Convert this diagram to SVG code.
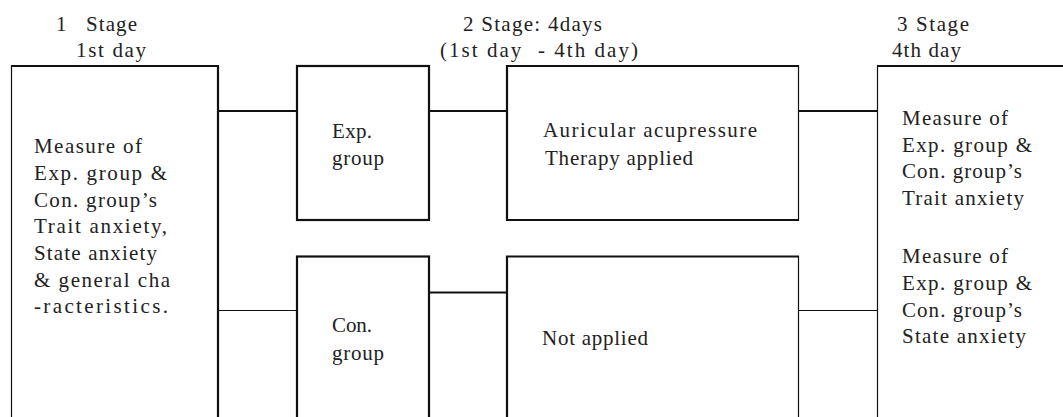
<svg xmlns="http://www.w3.org/2000/svg" width="1063" height="417" viewBox="0 0 1063 417">
<style>
text{font-family:"Liberation Serif","DejaVu Serif",serif;font-size:21px;fill:#222;}
.thick{stroke:#111;stroke-width:2.2;fill:none;}
.thin{stroke:#111;stroke-width:1.2;fill:none;}
</style>
<rect width="1063" height="417" fill="#fff"/>
<g id="headers">
<text x="56" y="31">1<tspan x="86" textLength="51" lengthAdjust="spacing">Stage</tspan></text>
<text x="76" y="57" textLength="70" lengthAdjust="spacing">1st day</text>
<text x="463" y="31" textLength="139" lengthAdjust="spacing">2 Stage: 4days</text>
<text x="440" y="57" textLength="198" lengthAdjust="spacing" xml:space="preserve">(1st day  - 4th day)</text>
<text x="897" y="31" textLength="72" lengthAdjust="spacing">3 Stage</text>
<text x="892" y="57" textLength="69" lengthAdjust="spacing">4th day</text>
</g>
<g id="connectors">
<line class="thick" x1="218" y1="111" x2="297" y2="111"/>
<line class="thick" x1="429" y1="111" x2="507" y2="111"/>
<line class="thick" x1="798" y1="111" x2="877" y2="111"/>
<line class="thin" x1="218" y1="310.5" x2="297" y2="310.5"/>
<line class="thick" x1="429" y1="292.5" x2="507" y2="292.5"/>
<line class="thin" x1="798" y1="310.5" x2="877" y2="310.5"/>
</g>
<g id="stage1">
<path class="thin" d="M11.5 430 V66"/>
<path class="thick" d="M11 66 H218 V430"/>
<text x="34" y="153" textLength="108" lengthAdjust="spacing">Measure of</text>
<text x="34" y="180" textLength="133" lengthAdjust="spacing">Exp. group &amp;</text>
<text x="34" y="207" textLength="123" lengthAdjust="spacing">Con. group’s</text>
<text x="34" y="233" textLength="133" lengthAdjust="spacing">Trait anxiety,</text>
<text x="34" y="260" textLength="123" lengthAdjust="spacing">State anxiety</text>
<text x="34" y="287" textLength="136" lengthAdjust="spacing">&amp; general cha</text>
<text x="34" y="313" textLength="134" lengthAdjust="spacing">-racteristics.</text>
</g>
<g id="exp-group">
<rect class="thick" x="297" y="66" width="132" height="154"/>
<text x="332" y="138" textLength="40" lengthAdjust="spacing">Exp.</text>
<text x="332" y="165" textLength="52" lengthAdjust="spacing">group</text>
</g>
<g id="con-group">
<rect class="thick" x="297" y="256.5" width="132" height="180"/>
<text x="332" y="332" textLength="40" lengthAdjust="spacing">Con.</text>
<text x="332" y="360" textLength="52" lengthAdjust="spacing">group</text>
</g>
<g id="therapy">
<path class="thick" d="M798 66 H507 V220 H798"/>
<path class="thin" d="M798.5 65 V221"/>
<text x="543" y="137" textLength="214" lengthAdjust="spacing">Auricular acupressure</text>
<text x="545" y="165" textLength="148" lengthAdjust="spacing">Therapy applied</text>
</g>
<g id="not-applied">
<path class="thick" d="M798 256.5 H507 V430"/>
<path class="thin" d="M798.5 255.5 V430"/>
<text x="542" y="345" textLength="106" lengthAdjust="spacing">Not applied</text>
</g>
<g id="stage3">
<path class="thin" d="M877.5 430 V66"/>
<path class="thick" d="M877 66 H1070"/>
<text x="902" y="125" textLength="106" lengthAdjust="spacing">Measure of</text>
<text x="902" y="152" textLength="130" lengthAdjust="spacing">Exp. group &amp;</text>
<text x="902" y="178" textLength="120" lengthAdjust="spacing">Con. group’s</text>
<text x="902" y="205" textLength="122" lengthAdjust="spacing">Trait anxiety</text>
<text x="902" y="263" textLength="106" lengthAdjust="spacing">Measure of</text>
<text x="902" y="290" textLength="130" lengthAdjust="spacing">Exp. group &amp;</text>
<text x="902" y="317" textLength="120" lengthAdjust="spacing">Con. group’s</text>
<text x="902" y="343" textLength="124" lengthAdjust="spacing">State anxiety</text>
</g>
</svg>
